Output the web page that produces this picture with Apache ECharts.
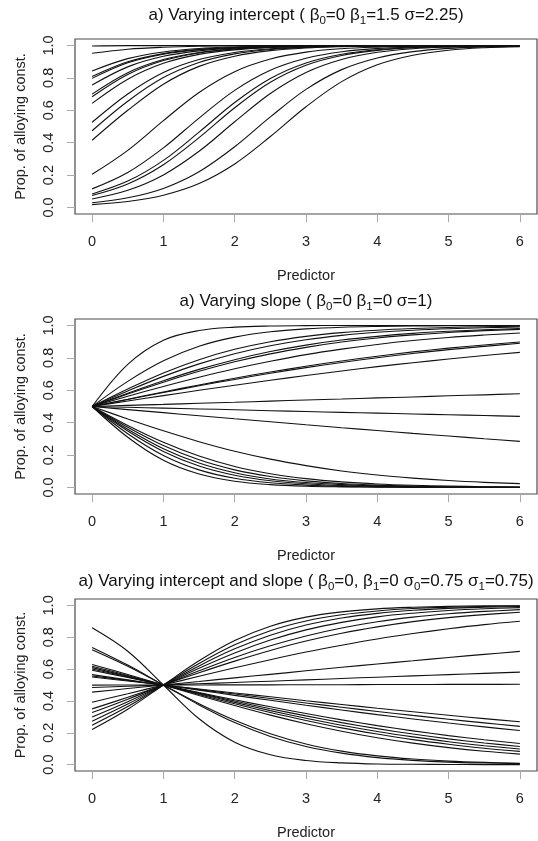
<!DOCTYPE html>
<html>
<head>
<meta charset="utf-8">
<script src="https://cdn.jsdelivr.net/npm/echarts@6/dist/echarts.min.js"></script>
<style>
html,body{margin:0;padding:0;background:#fff;}
#chart{width:538px;height:841px;}
</style>
</head>
<body>
<div id="chart"></div>
<script>
const predictor = [0, 0.5, 1, 1.5, 2, 2.5, 3, 3.5, 4, 4.5, 5, 5.5, 6];

// Panel 1: varying intercept
const interceptCurves = [
  [0.997,0.999,0.999,1,1,1,1,1,1,1,1,1,1],
  [0.952,0.977,0.989,0.995,0.997,0.999,0.999,1,1,1,1,1,1],
  [0.843,0.919,0.960,0.981,0.991,0.996,0.998,0.999,1,1,1,1,1],
  [0.808,0.899,0.950,0.976,0.988,0.994,0.997,0.999,0.999,1,1,1,1],
  [0.797,0.893,0.946,0.974,0.987,0.994,0.997,0.999,0.999,1,1,1,1],
  [0.756,0.868,0.933,0.967,0.984,0.992,0.996,0.998,0.999,1,1,1,1],
  [0.700,0.832,0.913,0.957,0.979,0.990,0.995,0.998,0.999,1,1,1,1],
  [0.684,0.821,0.907,0.954,0.978,0.989,0.995,0.998,0.999,0.999,1,1,1],
  [0.643,0.792,0.890,0.945,0.973,0.987,0.994,0.997,0.999,0.999,1,1,1],
  [0.526,0.701,0.833,0.913,0.957,0.979,0.990,0.995,0.998,0.999,1,1,1],
  [0.474,0.656,0.802,0.895,0.948,0.975,0.988,0.994,0.997,0.999,0.999,1,1],
  [0.415,0.600,0.761,0.871,0.934,0.968,0.985,0.993,0.997,0.998,0.999,1,1],
  [0.205,0.353,0.536,0.710,0.838,0.916,0.959,0.980,0.990,0.995,0.998,0.999,1],
  [0.115,0.216,0.368,0.552,0.723,0.847,0.921,0.961,0.981,0.991,0.996,0.998,0.999],
  [0.084,0.163,0.291,0.465,0.648,0.796,0.892,0.946,0.974,0.987,0.994,0.997,0.999],
  [0.074,0.145,0.264,0.431,0.616,0.773,0.878,0.938,0.970,0.986,0.993,0.997,0.998],
  [0.053,0.106,0.201,0.347,0.529,0.704,0.834,0.914,0.958,0.980,0.990,0.995,0.998],
  [0.029,0.060,0.118,0.221,0.375,0.559,0.729,0.851,0.923,0.962,0.982,0.991,0.996],
  [0.018,0.037,0.076,0.148,0.269,0.438,0.622,0.777,0.881,0.940,0.971,0.986,0.993]
];

// Panel 2: varying slope
const slopeCurves = [
  [0.5,0.760,0.909,0.969,0.990,0.997,0.999,1,1,1,1,1,1],
  [0.5,0.655,0.782,0.872,0.928,0.961,0.979,0.989,0.994,0.997,0.998,0.999,1],
  [0.5,0.608,0.707,0.789,0.853,0.900,0.933,0.956,0.971,0.981,0.988,0.992,0.995],
  [0.5,0.596,0.686,0.763,0.826,0.875,0.912,0.939,0.958,0.971,0.980,0.986,0.991],
  [0.5,0.582,0.659,0.729,0.789,0.839,0.879,0.910,0.933,0.951,0.964,0.974,0.981],
  [0.5,0.577,0.650,0.717,0.776,0.825,0.865,0.898,0.923,0.942,0.957,0.968,0.976],
  [0.5,0.563,0.624,0.681,0.733,0.779,0.820,0.854,0.883,0.907,0.926,0.941,0.954],
  [0.5,0.545,0.590,0.633,0.674,0.713,0.748,0.781,0.810,0.837,0.860,0.880,0.898],
  [0.5,0.543,0.586,0.628,0.667,0.705,0.740,0.772,0.801,0.827,0.851,0.871,0.890],
  [0.5,0.534,0.567,0.600,0.631,0.662,0.691,0.719,0.746,0.770,0.793,0.815,0.834],
  [0.5,0.507,0.513,0.520,0.526,0.533,0.540,0.546,0.553,0.559,0.566,0.572,0.579],
  [0.5,0.495,0.490,0.485,0.480,0.474,0.469,0.464,0.459,0.454,0.449,0.444,0.439],
  [0.5,0.481,0.462,0.443,0.424,0.406,0.387,0.369,0.352,0.334,0.318,0.301,0.285],
  [0.5,0.423,0.350,0.283,0.224,0.175,0.135,0.102,0.077,0.058,0.043,0.032,0.024],
  [0.5,0.383,0.279,0.194,0.130,0.085,0.055,0.035,0.022,0.014,0.009,0.005,0.003],
  [0.5,0.372,0.259,0.171,0.109,0.068,0.041,0.025,0.015,0.009,0.005,0.003,0.002],
  [0.5,0.360,0.240,0.151,0.091,0.053,0.031,0.018,0.010,0.006,0.003,0.002,0.001],
  [0.5,0.349,0.223,0.133,0.076,0.042,0.023,0.012,0.007,0.004,0.002,0.001,0.001],
  [0.5,0.332,0.198,0.109,0.057,0.029,0.015,0.007,0.004,0.002,0.001,0,0],
  [0.5,0.310,0.168,0.083,0.039,0.018,0.008,0.004,0.002,0.001,0,0,0]
];

// Panel 3: varying intercept and slope
const bothCurves = [
  [0.221,0.348,0.5,0.652,0.779,0.869,0.926,0.959,0.978,0.988,0.994,0.997,0.998],
  [0.248,0.365,0.5,0.635,0.752,0.841,0.902,0.941,0.965,0.980,0.988,0.993,0.996],
  [0.273,0.380,0.5,0.620,0.727,0.813,0.877,0.921,0.950,0.969,0.981,0.988,0.993],
  [0.299,0.395,0.5,0.605,0.701,0.782,0.846,0.893,0.928,0.951,0.968,0.979,0.986],
  [0.327,0.411,0.5,0.589,0.673,0.746,0.808,0.858,0.897,0.926,0.947,0.962,0.973],
  [0.350,0.423,0.5,0.577,0.650,0.717,0.776,0.825,0.865,0.898,0.923,0.942,0.957],
  [0.392,0.445,0.5,0.555,0.608,0.659,0.707,0.750,0.789,0.823,0.853,0.879,0.900],
  [0.455,0.478,0.5,0.522,0.545,0.567,0.589,0.611,0.632,0.652,0.673,0.692,0.711],
  [0.484,0.492,0.5,0.508,0.516,0.524,0.532,0.541,0.549,0.557,0.565,0.573,0.581],
  [0.499,0.5,0.5,0.5,0.501,0.501,0.502,0.502,0.503,0.503,0.504,0.504,0.505],
  [0.550,0.525,0.5,0.475,0.450,0.426,0.401,0.378,0.354,0.332,0.310,0.289,0.269],
  [0.557,0.529,0.5,0.471,0.443,0.415,0.387,0.360,0.334,0.309,0.285,0.262,0.240],
  [0.565,0.532,0.5,0.468,0.435,0.404,0.373,0.343,0.314,0.287,0.261,0.237,0.214],
  [0.593,0.547,0.5,0.453,0.407,0.363,0.321,0.281,0.245,0.212,0.182,0.156,0.133],
  [0.601,0.551,0.5,0.449,0.399,0.351,0.306,0.264,0.226,0.192,0.162,0.136,0.114],
  [0.609,0.555,0.5,0.445,0.391,0.339,0.291,0.247,0.208,0.174,0.144,0.119,0.098],
  [0.618,0.560,0.5,0.440,0.382,0.327,0.277,0.231,0.192,0.157,0.128,0.103,0.083],
  [0.629,0.566,0.5,0.434,0.371,0.311,0.257,0.210,0.169,0.135,0.107,0.084,0.066],
  [0.721,0.617,0.5,0.383,0.279,0.194,0.130,0.085,0.055,0.035,0.022,0.014,0.009],
  [0.736,0.625,0.5,0.375,0.264,0.177,0.114,0.072,0.044,0.027,0.016,0.010,0.006],
  [0.859,0.712,0.5,0.288,0.141,0.062,0.026,0.011,0.004,0.002,0.001,0,0]
];

const panelTitles = [
  'a) Varying intercept ( β{s|0}=0 β{s|1}=1.5 σ=2.25)',
  'a) Varying slope ( β{s|0}=0 β{s|1}=0 σ=1)',
  'a) Varying intercept and slope ( β{s|0}=0, β{s|1}=0 σ{s|0}=0.75 σ{s|1}=0.75)'
];
const xTicks = [0, 1, 2, 3, 4, 5, 6];
const yTicks = [0, 0.2, 0.4, 0.6, 0.8, 1.0];
const yTickLabels = ['0.0', '0.2', '0.4', '0.6', '0.8', '1.0'];
const xAxisTitle = 'Predictor';
const yAxisTitle = 'Prop. of alloying const.';

const panels = [interceptCurves, slopeCurves, bothCurves];
const panelTop = [0, 280, 560];
const titleCenter = [15, 301, 581];
const FONT = '"Liberation Sans", Arial, Helvetica, sans-serif';

const option = {
  animation: false,
  textStyle: { fontFamily: FONT },
  title: [], grid: [], xAxis: [], yAxis: [], series: []
};

panels.forEach((curves, p) => {
  const o = panelTop[p];
  option.title.push({
    text: panelTitles[p],
    left: 306, top: titleCenter[p] - 12, textAlign: 'center', padding: 0,
    textStyle: {
      fontFamily: FONT, fontSize: 17, fontWeight: 'normal', color: '#111', lineHeight: 24,
      rich: { s: { fontFamily: FONT, fontSize: 11.5, lineHeight: 13, verticalAlign: 'bottom', color: '#111' } }
    }
  });
  // plot frame; R-style 4% padding of the data range inside the frame
  option.grid.push({ left: 75, top: o + 39, width: 462, height: 175, show: true,
    borderColor: '#4a4a4a', borderWidth: 1.2, backgroundColor: 'transparent' });
  option.xAxis.push({
    gridIndex: p, type: 'value', min: -0.24, max: 6.24, position: 'bottom',
    axisLine: { show: false, onZero: false },
    axisTick: { show: true, inside: false, length: 8, customValues: xTicks, lineStyle: { color: '#aaa', width: 1 } },
    splitLine: { show: false },
    axisLabel: { customValues: xTicks, margin: 20, fontSize: 14.5, color: '#222', fontFamily: FONT },
    name: xAxisTitle, nameLocation: 'middle', nameGap: 54,
    nameTextStyle: { fontSize: 14.5, color: '#222', fontFamily: FONT }
  });
  option.yAxis.push({
    gridIndex: p, type: 'value', min: -0.04, max: 1.04, position: 'left',
    axisLine: { show: false, onZero: false },
    axisTick: { show: true, inside: false, length: 8, customValues: yTicks, lineStyle: { color: '#aaa', width: 1 } },
    splitLine: { show: false },
    axisLabel: { customValues: yTicks, margin: 19, fontSize: 14.5, color: '#222', rotate: 90, fontFamily: FONT,
      formatter: (v) => yTickLabels[Math.round(v * 5)] },
    name: yAxisTitle, nameLocation: 'middle', nameGap: 47,
    nameTextStyle: { fontSize: 14.5, color: '#222', fontFamily: FONT }
  });
  curves.forEach((vals) => {
    option.series.push({
      type: 'line', xAxisIndex: p, yAxisIndex: p,
      data: predictor.map((x, i) => [x, vals[i]]),
      showSymbol: false, symbol: 'none', smooth: 0.35, silent: true,
      lineStyle: { color: '#111', width: 1.1 }
    });
  });
});

const chart = echarts.init(document.getElementById('chart'), null, { renderer: 'canvas' });
chart.setOption(option);
</script>
</body>
</html>
